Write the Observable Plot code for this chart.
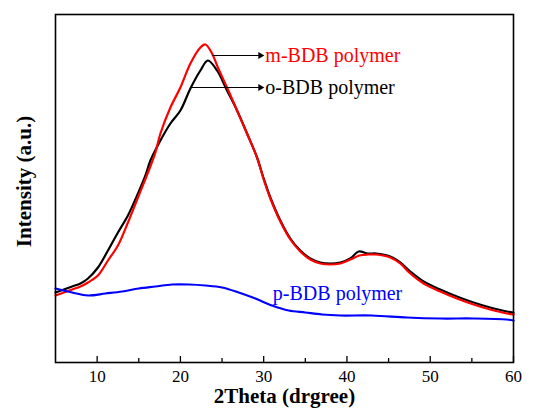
<!DOCTYPE html>
<html>
<head>
<meta charset="utf-8">
<script src="https://cdn.jsdelivr.net/npm/d3@7"></script>
<script src="https://cdn.jsdelivr.net/npm/@observablehq/plot@0.6"></script>
<style>
  html, body { margin: 0; padding: 0; background: #fff; }
  #chart svg { display: block; }
</style>
</head>
<body>
<div id="chart"></div>
<script>
// 2θ positions and intensities (a.u.)
const oTheta = [5, 6, 7, 8, 8.9, 10.1, 11.3, 12.5, 13.7, 14.9, 15.8, 16.4, 17.6, 18.8, 20, 21.2, 22.4, 23.3, 24.4, 25.6, 26.8, 28, 29.2, 30, 30.8, 32, 33.2, 34.4, 35.6, 36.8, 38, 39.2, 40.4, 41.4, 42.5, 43.5, 45.2, 46.4, 47.6, 49.2, 51.2, 53.2, 55.2, 57.2, 59.2, 60];
const oInt   = [70, 73, 76, 79, 84, 95, 112, 130, 147, 169, 187, 202, 222, 239, 252, 274, 292, 302, 292, 272, 252, 229, 205, 184, 165, 142, 124, 112, 104, 100, 99, 100, 104, 111, 109, 109, 106, 100, 91, 81, 73, 66, 60, 55, 51, 50];

const mTheta = [5, 6, 7, 8, 8.9, 10.1, 11.3, 12.5, 13.7, 14.9, 16.2, 17, 17.6, 18.8, 20, 21.2, 22.4, 23, 23.8, 24.5, 25.6, 26.8, 28, 29.2, 30, 30.8, 32, 33.2, 34.4, 35.6, 36.8, 38, 39.2, 40.4, 41.5, 42.5, 43.5, 45.2, 46.4, 47.6, 49.2, 51.2, 53.2, 55.2, 57.2, 59.2, 60];
const mInt   = [67, 70, 73, 76, 80, 87, 102, 117, 140, 165, 192, 210, 229, 255, 275, 299, 315, 318, 309, 295, 275, 252, 229, 205, 183, 164, 141, 123, 111, 103, 99, 98, 99, 103, 107, 108, 108, 105, 99, 89, 79, 71, 64, 58, 53, 49, 48];

const pTheta = [5, 7, 8.9, 11, 13, 15, 17, 19, 21, 23, 25, 27, 29, 31, 33, 35, 37, 39.2, 43, 47.2, 51.2, 55.2, 59.2, 60];
const pInt   = [74, 70, 67, 69, 71, 74, 76, 78, 78, 77, 75, 70, 64, 57, 52, 50, 48, 47, 47, 45, 44, 44, 43, 42];

const majorTicks = [10, 20, 30, 40, 50, 60];
const minorTicks = [15, 25, 35, 45, 55];

// annotations
const labelText  = ["m-BDB polymer", "o-BDB polymer", "p-BDB polymer"];
const labelX     = [30.2, 30.2, 31.1];
const labelY     = [307, 275, 69];
const labelColor = ["#ff0000", "#000000", "#0000ff"];
const arrowX1 = [23.9, 21.4];
const arrowX2 = [29.6, 29.6];
const arrowY  = [307, 275];

const serif = "'Liberation Serif', 'Times New Roman', Times, serif";
const toRows = (xs, ys) => xs.map((x, i) => ({x, y: ys[i]}));
const oData = toRows(oTheta, oInt);
const mData = toRows(mTheta, mInt);
const pData = toRows(pTheta, pInt);
const labels = labelText.map((t, i) => ({t, x: labelX[i], y: labelY[i], c: labelColor[i]}));
const arrows = arrowY.map((y, i) => ({x1: arrowX1[i], x2: arrowX2[i], y}));

const chart = Plot.plot({
  width: 535,
  height: 411,
  marginLeft: 55,
  marginRight: 22,
  marginTop: 14,
  marginBottom: 49,
  style: {fontFamily: serif, background: "#fff"},
  x: {domain: [5, 60], axis: null},
  y: {domain: [0, 348], axis: null},
  marks: [
    Plot.line(oData, {x: "x", y: "y", stroke: "#000000", strokeWidth: 2.2, curve: "catmull-rom"}),
    Plot.line(mData, {x: "x", y: "y", stroke: "#ff0000", strokeWidth: 2.2, curve: "catmull-rom"}),
    Plot.line(pData, {x: "x", y: "y", stroke: "#0000ff", strokeWidth: 2.2, curve: "catmull-rom"}),
    Plot.ruleY(arrows, {x1: "x1", x2: "x2", y: "y", stroke: "#000", strokeWidth: 1}),
    Plot.dot(arrows, {x: "x2", y: "y", symbol: "triangle", r: 2.6, fill: "#000", stroke: "none", rotate: 90}),
    Plot.text(labels, {x: "x", y: "y", text: "t", fill: "c", textAnchor: "start", fontSize: 20, fontFamily: serif}),
    Plot.ruleX(majorTicks, {x: d => d, y1: 0, y2: 6, stroke: "#000", strokeWidth: 1.3}),
    Plot.ruleX(minorTicks, {x: d => d, y1: 0, y2: 4, stroke: "#000", strokeWidth: 1.3}),
    Plot.axisX(majorTicks, {tickSize: 0, tickPadding: 7, fontSize: 17, fontFamily: serif, label: null}),
    Plot.frame({stroke: "#000", strokeWidth: 1.6}),
    Plot.text(["2Theta (drgree)"], {frameAnchor: "bottom", textAnchor: "middle", lineAnchor: "middle", dy: 34, fontSize: 21, fontWeight: "bold", fontFamily: serif, fill: "#000"}),
    Plot.text(["Intensity (a.u.)"], {frameAnchor: "left", textAnchor: "middle", lineAnchor: "middle", dx: -31, dy: -7, rotate: -90, fontSize: 21, fontWeight: "bold", fontFamily: serif, fill: "#000"})
  ]
});
document.getElementById("chart").appendChild(chart);
</script>
</body>
</html>
